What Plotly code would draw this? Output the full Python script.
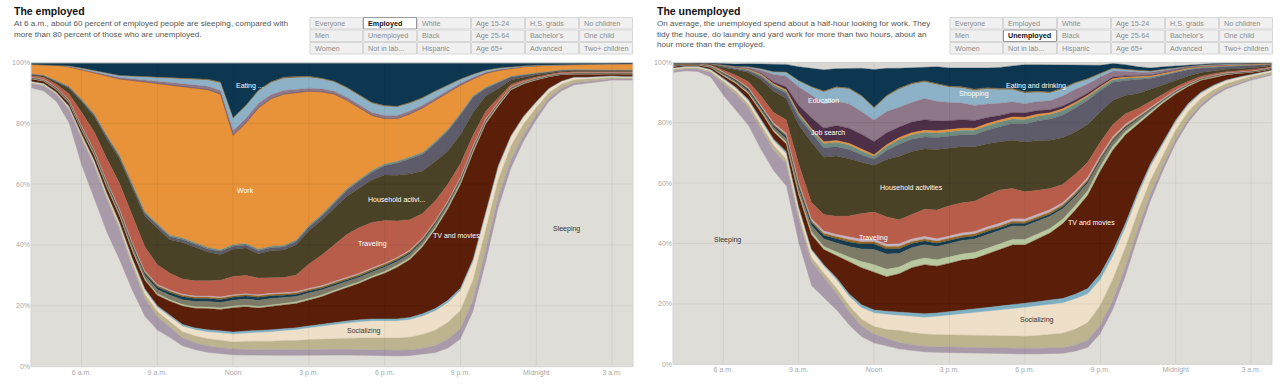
import plotly.graph_objects as go

# ---------------- time axis (hours after midnight, 4 a.m. -> 4 a.m.) ----------------
times = [4.0, 4.5, 5.0, 5.5, 6.0, 6.5, 7.0, 7.5, 8.0, 8.5,
         9.0, 9.5, 10.0, 10.5, 11.0, 11.5, 12.0, 12.5, 13.0, 13.5,
         14.0, 14.5, 15.0, 15.5, 16.0, 16.5, 17.0, 17.5, 18.0, 18.5,
         19.0, 19.5, 20.0, 20.5, 21.0, 21.5, 22.0, 22.5, 23.0, 23.5,
         24.0, 24.5, 25.0, 25.5, 26.0, 26.5, 27.0, 27.5, 28.0]

x_tick_vals = [6, 9, 12, 15, 18, 21, 24, 27]
x_tick_text = ["6 a.m.", "9 a.m.", "Noon", "3 p.m.", "6 p.m.", "9 p.m.", "Midnight", "3 a.m."]
y_tick_vals = [0, 20, 40, 60, 80, 100]
y_tick_text = ["0%", "20%", "40%", "60%", "80%", "100%"]

# ---------------- EMPLOYED (percent of people doing each activity) ----------------
emp_sleeping = [91.5, 90.5, 87, 80, 66, 55, 44, 35, 25, 16.5,
                12, 9.5, 6.7, 5.5, 4.6, 4.2, 3.8, 3.7, 3.6, 3.6,
                3.6, 3.6, 3.7, 3.7, 3.7, 3.7, 3.6, 3.5, 3.4, 3.4,
                3.5, 3.9, 4.5, 6, 9, 18, 34, 52, 65, 74,
                81, 87, 90.5, 92.5, 93, 93.5, 94, 94, 94]
emp_personal = [1.5, 1.8, 2.5, 4.5, 9, 11, 11, 10, 8, 6,
                4.5, 3.5, 2.8, 2.4, 2.2, 2, 2, 2, 2, 2,
                2, 2, 2, 2, 2, 2, 2, 2, 2, 2,
                2, 2.2, 2.5, 3, 3.5, 4, 4.5, 4, 3, 2.2,
                1.6, 1.2, 1, 0.8, 0.7, 0.6, 0.6, 0.5, 0.5]
emp_relaxing = [0.3, 0.3, 0.3, 0.5, 0.7, 0.9, 1, 1.2, 1.4, 1.5,
                1.6, 1.8, 2, 2.2, 2.4, 2.5, 2.3, 2.6, 2.7, 2.8,
                3, 3, 3.2, 3.4, 3.5, 3.6, 3.8, 4, 4, 4,
                4.2, 4.5, 5, 5.5, 6, 6.5, 6.5, 5.5, 4.5, 3.5,
                2.5, 1.8, 1.3, 1, 0.8, 0.6, 0.5, 0.4, 0.4]
emp_socializing = [0.3, 0.3, 0.3, 0.4, 0.5, 0.6, 0.7, 0.8, 1, 1.2,
                   1.4, 1.6, 1.8, 2, 2.2, 2.4, 2.6, 2.7, 2.8, 3,
                   3.2, 3.5, 3.8, 4.2, 4.6, 5, 5.3, 5.5, 5.6, 5.6,
                   5.7, 6, 6.3, 6.5, 6.5, 6, 5, 4, 3, 2.3,
                   1.7, 1.2, 0.9, 0.7, 0.5, 0.4, 0.3, 0.3, 0.3]
emp_sports = [0.1, 0.1, 0.1, 0.2, 0.2, 0.3, 0.3, 0.4, 0.4, 0.5,
              0.5, 0.6, 0.6, 0.6, 0.7, 0.7, 0.7, 0.7, 0.7, 0.7,
              0.7, 0.7, 0.7, 0.7, 0.7, 0.7, 0.7, 0.7, 0.7, 0.7,
              0.8, 0.8, 0.8, 0.8, 0.8, 0.8, 0.7, 0.6, 0.4, 0.3,
              0.2, 0.2, 0.1, 0.1, 0.1, 0.1, 0.1, 0.1, 0.1]
emp_tv = [0.8, 0.8, 0.8, 1, 1.3, 1.6, 1.9, 2.2, 2.4, 2.8,
          3.5, 4.5, 6, 6.5, 7, 7, 8, 8, 7.5, 7.8,
          7.8, 8, 8.5, 9, 10, 11, 12, 13.5, 15, 17,
          19, 22, 26, 30, 34, 35, 29, 19.5, 15, 10.6,
          7.2, 3.8, 2.1, 1, 1, 0.9, 0.8, 0.8, 0.8]
emp_religious = [0.1, 0.1, 0.1, 0.2, 0.2, 0.3, 0.3, 0.3, 0.4, 0.4,
                 0.5, 0.5, 0.5, 0.5, 0.5, 0.5, 0.5, 0.5, 0.5, 0.5,
                 0.5, 0.5, 0.5, 0.5, 0.5, 0.5, 0.5, 0.5, 0.6, 0.6,
                 0.6, 0.6, 0.6, 0.6, 0.6, 0.5, 0.4, 0.3, 0.2, 0.2,
                 0.1, 0.1, 0.1, 0.1, 0.1, 0.1, 0.1, 0.1, 0.1]
emp_other_leisure = [0.2, 0.2, 0.3, 0.4, 0.5, 0.6, 0.7, 0.8, 1, 1.2,
                     1.4, 1.5, 1.6, 1.7, 1.8, 1.8, 1.9, 2, 2, 2,
                     1.9, 1.8, 1.8, 1.7, 1.6, 1.5, 1.5, 1.4, 1.4, 1.3,
                     1.2, 1.1, 1, 0.9, 0.8, 0.7, 0.5, 0.4, 0.3, 0.2,
                     0.2, 0.1, 0.1, 0.1, 0.1, 0.1, 0.1, 0.1, 0.1]
emp_phone = [0.1, 0.1, 0.2, 0.2, 0.3, 0.4, 0.5, 0.5, 0.6, 0.7,
             0.8, 0.9, 1, 1, 1, 1, 1, 1, 1, 0.9,
             0.8, 0.7, 0.7, 0.6, 0.6, 0.6, 0.5, 0.5, 0.5, 0.5,
             0.5, 0.5, 0.5, 0.4, 0.4, 0.4, 0.3, 0.2, 0.2, 0.1,
             0.1, 0.1, 0.1, 0.1, 0.1, 0.1, 0.1, 0.1, 0.1]
emp_volunteering = [0.1, 0.1, 0.1, 0.2, 0.2, 0.3, 0.3, 0.3, 0.4, 0.4,
                    0.5, 0.5, 0.5, 0.5, 0.5, 0.5, 0.5, 0.5, 0.5, 0.5,
                    0.5, 0.5, 0.5, 0.5, 0.5, 0.5, 0.5, 0.5, 0.5, 0.5,
                    0.5, 0.4, 0.4, 0.4, 0.3, 0.3, 0.2, 0.2, 0.1, 0.1,
                    0.1, 0.1, 0.1, 0.1, 0.1, 0.1, 0.1, 0.1, 0.1]
emp_arts = [0.1, 0.1, 0.1, 0.1, 0.2, 0.2, 0.2, 0.3, 0.3, 0.3,
            0.3, 0.3, 0.3, 0.3, 0.3, 0.3, 0.3, 0.3, 0.3, 0.3,
            0.3, 0.3, 0.3, 0.3, 0.3, 0.3, 0.3, 0.3, 0.3, 0.3,
            0.3, 0.3, 0.3, 0.3, 0.3, 0.3, 0.3, 0.2, 0.2, 0.1,
            0.1, 0.1, 0.1, 0.1, 0.1, 0.1, 0.1, 0.1, 0.1]
emp_traveling = [0.5, 0.7, 1, 2, 4.5, 6, 7.5, 8.5, 9, 8,
                 6.5, 5.5, 5, 5, 5, 5.5, 6, 6, 5.5, 5,
                 5, 5.5, 8, 10, 12, 14, 15, 15, 14, 12,
                 10, 8, 6.5, 5.5, 4.5, 3.5, 2.5, 1.5, 0.8, 0.5,
                 0.4, 0.3, 0.3, 0.3, 0.3, 0.3, 0.3, 0.3, 0.3]
emp_household = [0.3, 0.4, 0.8, 1.8, 3.5, 5, 6.5, 8, 9, 10,
                 12, 11, 12, 11, 9.5, 8.5, 9, 9, 8, 9,
                 9, 10, 11, 11.5, 12, 12.5, 13, 14, 15, 15,
                 15, 14, 13, 11, 9.5, 7.5, 5, 3, 1.5, 1,
                 0.7, 0.5, 0.4, 0.3, 0.3, 0.3, 0.3, 0.3, 0.3]
emp_caring = [0.2, 0.2, 0.2, 0.4, 0.5, 0.6, 0.7, 0.8, 0.9, 1,
              1, 1, 1, 1, 1, 1, 1, 1, 1, 1,
              1, 1, 1.1, 1.3, 1.6, 2, 2.3, 2.5, 3, 4,
              5, 5.5, 6, 6.5, 6.5, 5, 2.5, 2, 1, 0.7,
              0.5, 0.4, 0.3, 0.3, 0.3, 0.2, 0.2, 0.2, 0.2]
emp_services = [0.1, 0.1, 0.2, 0.2, 0.3, 0.3, 0.4, 0.4, 0.5, 0.5,
                0.5, 0.5, 0.5, 0.5, 0.5, 0.5, 0.5, 0.5, 0.5, 0.5,
                0.5, 0.5, 0.6, 0.6, 0.6, 0.6, 0.6, 0.6, 0.6, 0.6,
                0.6, 0.6, 0.6, 0.6, 0.6, 0.5, 0.4, 0.3, 0.2, 0.2,
                0.1, 0.1, 0.1, 0.1, 0.1, 0.1, 0.1, 0.1, 0.1]
emp_work = [3.1, 3.4, 5, 6.4, 9.6, 13.4, 19.5, 25, 33.7, 42.5,
            46, 49.3, 49.7, 50.8, 51.8, 51.1, 35.9, 39.5, 46.4, 48.4,
            49.7, 48.4, 44.1, 40.3, 35.3, 29, 23.4, 18, 14.9, 14,
            14.1, 14.6, 13.5, 12, 9.2, 5.5, 4.5, 3.6, 2.6, 2.5,
            2.3, 2, 1.7, 1.7, 1.7, 1.9, 1.7, 2, 2]
emp_job_search = [0, 0, 0, 0, 0, 0, 0, 0, 0, 0,
                  0, 0, 0, 0, 0, 0, 0, 0, 0, 0,
                  0, 0, 0, 0, 0, 0, 0, 0, 0, 0,
                  0, 0, 0, 0, 0, 0, 0, 0, 0, 0,
                  0, 0, 0, 0, 0, 0, 0, 0, 0]
emp_education = [0, 0, 0, 0.1, 0.2, 0.3, 0.4, 0.5, 0.6, 0.7,
                 0.8, 0.9, 1, 1, 1.1, 1.2, 1.5, 1.5, 1.5, 1.3,
                 1.2, 1.1, 1, 1, 1, 1, 1, 1, 1, 1,
                 1, 0.9, 0.8, 0.7, 0.6, 0.5, 0.4, 0.3, 0.2, 0.1,
                 0.1, 0, 0, 0, 0, 0, 0, 0, 0]
emp_shopping = [0, 0, 0.1, 0.2, 0.3, 0.4, 0.5, 0.6, 0.7, 0.9,
                1.1, 1.3, 1.5, 1.8, 2, 2.5, 4, 4, 4, 4,
                4, 3.8, 3.5, 3.2, 3, 3, 3, 3, 3, 2.8,
                2.5, 2.2, 2, 1.6, 1.2, 0.9, 0.6, 0.4, 0.2, 0.1,
                0.1, 0.1, 0, 0, 0, 0, 0, 0, 0]
emp_housework = [0, 0, 0, 0, 0.1, 0.1, 0.1, 0.1, 0.2, 0.2,
                 0.2, 0.2, 0.3, 0.3, 0.3, 0.3, 0.3, 0.3, 0.3, 0.3,
                 0.4, 0.4, 0.4, 0.3, 0.3, 0.3, 0.3, 0.3, 0.3, 0.3,
                 0.3, 0.3, 0.3, 0.2, 0.2, 0.2, 0.1, 0.1, 0.1, 0.1,
                 0, 0, 0, 0, 0, 0, 0, 0, 0]
emp_eating = [0.4, 0.5, 0.6, 0.9, 1.5, 2.3, 3, 3.8, 4, 4.2,
              4.4, 4.6, 4.7, 4.9, 5.1, 6, 17.7, 13.7, 8.7, 5.9,
              4.4, 4.2, 4.1, 4.7, 5.7, 7.7, 10.2, 12.7, 13.7, 13.9,
              12.7, 11.1, 8.9, 7, 5, 3.4, 2.1, 1.4, 1, 0.7,
              0.6, 0.5, 0.5, 0.4, 0.4, 0.3, 0.3, 0.3, 0.3]
emp_other = [0.3, 0.3, 0.3, 0.3, 0.4, 0.4, 0.5, 0.5, 0.5, 0.5,
             0.5, 0.5, 0.5, 0.5, 0.5, 0.5, 0.5, 0.5, 0.5, 0.5,
             0.5, 0.5, 0.5, 0.5, 0.5, 0.5, 0.5, 0.5, 0.5, 0.5,
             0.5, 0.5, 0.5, 0.5, 0.5, 0.5, 0.5, 0.5, 0.5, 0.5,
             0.4, 0.4, 0.3, 0.3, 0.3, 0.3, 0.3, 0.2, 0.2]

# ---------------- UNEMPLOYED ----------------
unemp_sleeping = [96.5, 97, 96.8, 95, 89, 84, 79, 71, 64, 59,
                  40, 26, 22, 18, 13, 9, 7, 6, 5, 4.5,
                  4, 3.8, 3.7, 3.6, 3.5, 3.5, 3.5, 3.4, 3.3, 3.3,
                  3.3, 3.5, 4.2, 5.5, 10, 18, 29, 42, 54, 64,
                  73, 80, 85, 88.5, 91, 92.5, 94, 95, 96]
unemp_personal = [0.8, 0.8, 1, 1.5, 4, 5.5, 6, 7, 7, 7.5,
                  8, 8, 6.6, 5.5, 4.5, 3.7, 3, 2.5, 2.2, 2,
                  2, 2, 2, 2, 2, 2, 2, 2, 2, 2,
                  2, 2, 2.2, 2.5, 3, 3.2, 3.2, 3, 2.5, 2,
                  1.5, 1.2, 1, 0.8, 0.7, 0.6, 0.5, 0.5, 0.5]
unemp_relaxing = [0.4, 0.4, 0.4, 0.5, 0.8, 1, 1.2, 1.4, 1.5, 1.5,
                  1.5, 1.5, 1.6, 1.8, 2, 2.2, 2.5, 3, 4, 4,
                  4, 4, 4, 4, 4, 4, 4, 4, 4, 4.2,
                  4.5, 4.8, 5.2, 5.8, 6.5, 7, 6.5, 5.5, 4.5, 3.5,
                  3, 2.5, 2, 1.5, 1.2, 1, 0.8, 0.7, 0.6]
unemp_socializing = [0.3, 0.3, 0.3, 0.4, 0.6, 0.8, 1, 1.3, 1.5, 1.8,
                     2, 2.2, 2.3, 2.7, 3, 3.8, 4.5, 5, 5, 5.2,
                     5.5, 6, 6.5, 7, 7.5, 8, 8.5, 9, 9.5, 9.8,
                     10, 10, 10, 9.5, 8.5, 7.5, 6.5, 5.5, 4.5, 3.5,
                     2.8, 2.2, 1.7, 1.3, 1, 0.8, 0.6, 0.5, 0.5]
unemp_sports = [0.1, 0.1, 0.1, 0.2, 0.3, 0.4, 0.5, 0.5, 0.6, 0.7,
                0.5, 0.5, 0.5, 0.7, 0.9, 1, 1, 1.1, 1.1, 1.1,
                1.2, 1.2, 1.2, 1.2, 1.3, 1.3, 1.3, 1.3, 1.3, 1.4,
                1.5, 1.5, 1.6, 1.8, 2, 1.8, 1.5, 1.2, 1, 0.8,
                0.6, 0.5, 0.4, 0.3, 0.2, 0.2, 0.1, 0.1, 0.1]
unemp_tv = [0.5, 0.4, 0.4, 0.7, 0.8, 1.3, 1.8, 2.3, 2.4, 2.5,
            4, 4.8, 5, 7.3, 10.6, 12.3, 12.5, 11.4, 12.7, 15.2,
            16.3, 15.5, 16.1, 16.7, 16.7, 17.7, 18.7, 19.8, 19.4, 20.8,
            22.2, 24.7, 27.8, 30.9, 34, 33.5, 29.3, 22.3, 16.5, 12.7,
            8.6, 5.6, 3.9, 2.6, 1.7, 1.2, 0.6, 0.4, 0.5]
unemp_religious = [0.1, 0.1, 0.1, 0.1, 0.2, 0.2, 0.3, 0.4, 0.5, 0.6,
                   0.8, 1, 1, 1.2, 1.5, 2, 2.5, 2.5, 2.2, 2.2,
                   2.2, 2.1, 2, 2, 2, 2, 1.8, 1.8, 1.8, 1.6,
                   1.5, 1.5, 1.5, 1.5, 1.5, 1.2, 1, 0.8, 0.6, 0.5,
                   0.4, 0.3, 0.2, 0.2, 0.2, 0.1, 0.1, 0.1, 0.1]
unemp_other_leisure = [0.1, 0.1, 0.2, 0.2, 0.4, 0.5, 0.7, 0.8, 1, 1.2,
                       1.5, 2, 2.5, 3, 3.5, 4.2, 5, 5, 4.5, 4.4,
                       4.4, 4.4, 4.5, 4.5, 4.5, 4.5, 4.5, 4.5, 4.5, 4.2,
                       4, 3.5, 3, 2.5, 2, 1.6, 1.2, 0.9, 0.7, 0.5,
                       0.4, 0.3, 0.2, 0.2, 0.2, 0.1, 0.1, 0.1, 0.1]
unemp_phone = [0.1, 0.1, 0.1, 0.1, 0.3, 0.4, 0.5, 0.5, 0.6, 0.7,
               0.8, 1, 1.2, 1.4, 1.5, 1.6, 1.8, 1.7, 1.6, 1.4,
               1.2, 1.1, 1, 1, 1, 1, 0.9, 0.9, 0.8, 0.8,
               0.7, 0.7, 0.6, 0.6, 0.5, 0.5, 0.4, 0.3, 0.3, 0.2,
               0.2, 0.1, 0.1, 0.1, 0.1, 0.1, 0.1, 0.1, 0.1]
unemp_volunteering = [0.1, 0.1, 0.1, 0.1, 0.2, 0.2, 0.3, 0.3, 0.4, 0.5,
                      0.6, 0.6, 0.7, 0.7, 0.8, 0.8, 0.8, 0.8, 0.8, 0.7,
                      0.7, 0.7, 0.7, 0.7, 0.7, 0.7, 0.7, 0.7, 0.7, 0.7,
                      0.7, 0.6, 0.6, 0.6, 0.5, 0.5, 0.4, 0.3, 0.2, 0.2,
                      0.1, 0.1, 0.1, 0.1, 0.1, 0.1, 0.1, 0.1, 0.1]
unemp_arts = [0.1, 0.1, 0.1, 0.1, 0.2, 0.2, 0.3, 0.3, 0.4, 0.5,
              0.6, 0.6, 0.7, 0.7, 0.8, 0.8, 0.8, 0.8, 0.8, 0.8,
              0.8, 0.8, 0.8, 0.8, 0.8, 0.8, 0.8, 0.8, 0.8, 0.8,
              0.8, 0.7, 0.7, 0.7, 0.6, 0.6, 0.5, 0.4, 0.3, 0.2,
              0.2, 0.1, 0.1, 0.1, 0.1, 0.1, 0.1, 0.1, 0.1]
unemp_traveling = [0.1, 0, 0, 0.2, 0.7, 1.2, 2, 3, 3.5, 4.5,
                   6, 5.5, 5.5, 6, 7, 8.5, 9, 9, 8, 8,
                   9, 9.5, 10, 10, 10, 10.5, 11, 10, 9, 8,
                   7, 6, 5.5, 5, 4.5, 4, 3.5, 2.5, 2, 1.5,
                   1, 0.8, 0.6, 0.5, 0.4, 0.4, 0.4, 0.3, 0.2]
unemp_household = [0.1, 0.1, 0.1, 0.3, 0.8, 1.8, 3, 5.5, 7, 7,
                   13, 20, 19, 20, 19, 17, 15.5, 19, 21, 21,
                   20, 20, 19, 18.5, 18, 17, 16, 16, 16.5, 16.5,
                   16, 15.5, 14, 12.5, 10, 8, 6, 5, 4, 3,
                   2.3, 1.8, 1.3, 1, 0.8, 0.7, 0.6, 0.5, 0.3]
unemp_caring = [0.1, 0, 0, 0.1, 0.3, 0.4, 0.6, 1, 1.5, 1.8,
                2.5, 3, 3, 3, 3, 2.5, 2, 3, 4, 4,
                4, 4, 4, 4, 4, 4.5, 5, 5.5, 6, 6.5,
                7, 7.5, 8, 8, 7, 6, 5, 4.5, 3.5, 3,
                2.5, 2, 1.5, 1.2, 1, 0.9, 0.8, 0.6, 0.3]
unemp_services = [0, 0, 0, 0, 0.1, 0.2, 0.3, 0.5, 0.6, 0.7,
                  1, 1, 1.5, 1.5, 1.5, 1.2, 1, 1.3, 1.5, 1.5,
                  1.5, 1.5, 1.5, 1.5, 1.5, 1.5, 1.5, 1.5, 1.5, 1.5,
                  1.5, 1.5, 1.3, 1.2, 1, 0.8, 0.7, 0.6, 0.5, 0.4,
                  0.3, 0.3, 0.2, 0.2, 0.2, 0.2, 0.2, 0.1, 0.1]
unemp_work = [0.1, 0.1, 0.1, 0.1, 0.2, 0.2, 0.3, 0.3, 0.4, 0.4,
              0.5, 0.5, 0.6, 0.6, 0.6, 0.6, 0.5, 0.6, 0.7, 0.7,
              0.7, 0.7, 0.7, 0.7, 0.7, 0.7, 0.7, 0.7, 0.7, 0.7,
              0.6, 0.6, 0.5, 0.5, 0.4, 0.4, 0.4, 0.4, 0.4, 0.4,
              0.4, 0.3, 0.3, 0.3, 0.3, 0.3, 0.3, 0.3, 0.1]
unemp_job_search = [0, 0, 0, 0, 0, 0, 0.1, 0.3, 0.6, 1,
                    2.5, 3.5, 4.5, 5, 5, 5, 4.4, 4, 3.5, 3.5,
                    3.5, 3.3, 3, 2.8, 2.5, 2, 1.5, 1.5, 1.5, 1.2,
                    1, 0.9, 0.8, 0.7, 0.6, 0.5, 0.4, 0.3, 0.2, 0.2,
                    0.1, 0.1, 0, 0, 0, 0, 0, 0, 0]
unemp_education = [0, 0, 0, 0, 0.1, 0.2, 0.4, 1, 2.5, 3.5,
                   6, 7.5, 8, 8, 8, 7.5, 7, 7, 6.5, 6.5,
                   7, 6.5, 6, 5.5, 5, 4.5, 4, 3.5, 3, 3,
                   3, 3.3, 3.5, 3, 2.5, 2, 1.5, 1.2, 1, 0.8,
                   0.6, 0.4, 0.3, 0.2, 0.1, 0.1, 0.1, 0.1, 0]
unemp_shopping = [0, 0, 0, 0, 0.1, 0.1, 0.2, 0.4, 0.8, 1.2,
                  2, 2.5, 4, 4.5, 5, 5, 4, 5, 6, 6,
                  5.5, 5.5, 5, 5, 5, 5, 4.5, 4, 3.5, 3,
                  2.5, 2.3, 2, 1.5, 1, 0.8, 0.5, 0.4, 0.3, 0.2,
                  0.1, 0.1, 0.1, 0.1, 0.1, 0.1, 0, 0, 0]
unemp_housework = [0, 0, 0, 0, 0, 0, 0, 0.1, 0.1, 0.2,
                   0.2, 0.3, 0.3, 0.3, 0.3, 0.3, 0.3, 0.3, 0.4, 0.4,
                   0.4, 0.4, 0.4, 0.4, 0.4, 0.4, 0.4, 0.4, 0.4, 0.4,
                   0.4, 0.4, 0.3, 0.3, 0.3, 0.2, 0.2, 0.2, 0.1, 0.1,
                   0.1, 0.1, 0.1, 0.1, 0.1, 0.1, 0.1, 0.1, 0]
unemp_eating = [0.2, 0.1, 0.1, 0.2, 0.5, 0.8, 1, 1.5, 2.4, 2.5,
                4.5, 6, 7, 6, 6.5, 9, 12.5, 9, 6.5, 5,
                4.5, 5.5, 6, 6.3, 7, 6.5, 7, 7.5, 9, 8.8,
                9, 7.5, 5.7, 4.4, 2.6, 1.5, 1.5, 1.2, 1, 0.8,
                0.6, 0.4, 0.3, 0.3, 0.2, 0.2, 0.2, 0.2, 0.2]
unemp_other = [0.3, 0.2, 0.1, 0.2, 0.4, 0.6, 0.5, 0.6, 0.7, 0.7,
               1.5, 2, 2.5, 2.1, 2, 2, 2.4, 2, 2, 1.9,
               1.6, 1.5, 1.9, 1.8, 1.9, 1.9, 1.7, 1.2, 0.8, 0.8,
               0.8, 1, 1, 1, 1, 0.4, 0.8, 1.5, 1.9, 1.5,
               1.2, 0.8, 0.6, 0.4, 0.3, 0.2, 0.2, 0.1, 0.1]

# ---------------- layer order (bottom -> top) and colours ----------------
activities = ["Sleeping", "Personal care", "Relaxing and thinking", "Socializing",
              "Sports and exercise", "TV and movies", "Religious activities", "Other leisure",
              "Phone, mail and e-mail", "Volunteering", "Arts and entertainment", "Traveling",
              "Household activities", "Caring for others", "Professional services", "Work",
              "Job search", "Education", "Shopping", "Housework", "Eating and drinking", "Other"]
colors = ["#dfddd7", "#a99aa9", "#bdb48f", "#eedfc8",
          "#7eb0c4", "#5b1e08", "#b8c89f", "#7e7a68",
          "#173c4f", "#9a6a25", "#c6b4c6", "#b75d4a",
          "#4a4227", "#5e5b6b", "#6f8c80", "#e8933a",
          "#4e2f48", "#8e7788", "#8db2c7", "#8a6a32", "#0d3650", "#d9d7d1"]
emp_series = [emp_sleeping, emp_personal, emp_relaxing, emp_socializing,
              emp_sports, emp_tv, emp_religious, emp_other_leisure,
              emp_phone, emp_volunteering, emp_arts, emp_traveling,
              emp_household, emp_caring, emp_services, emp_work,
              emp_job_search, emp_education, emp_shopping, emp_housework, emp_eating, emp_other]
unemp_series = [unemp_sleeping, unemp_personal, unemp_relaxing, unemp_socializing,
                unemp_sports, unemp_tv, unemp_religious, unemp_other_leisure,
                unemp_phone, unemp_volunteering, unemp_arts, unemp_traveling,
                unemp_household, unemp_caring, unemp_services, unemp_work,
                unemp_job_search, unemp_education, unemp_shopping, unemp_housework, unemp_eating, unemp_other]

fig = go.Figure()
for group, series, xa, ya in [("emp", emp_series, "x", "y"), ("unemp", unemp_series, "x2", "y2")]:
    for i, (name, col, vals) in enumerate(zip(activities, colors, series)):
        kw = dict(groupnorm="percent") if i == 0 else {}
        fig.add_trace(go.Scatter(
            x=times, y=vals, name=name, stackgroup=group, mode="lines",
            line=dict(width=0.4, color=col), fillcolor=col,
            hoverinfo="skip", showlegend=False, xaxis=xa, yaxis=ya, **kw))

W, H = 1280, 387
def px(x):
    return x / W
def py(y):
    return 1 - y / H

FONT = "Liberation Sans, Arial, sans-serif"
axis_font = dict(family=FONT, size=7, color="#a8a8a8")
common_x = dict(range=[4, 27.83], tickvals=x_tick_vals, ticktext=x_tick_text, showgrid=False,
                zeroline=False, showline=False, ticks="", tickfont=axis_font, fixedrange=True,
                automargin=False)
common_y = dict(range=[0, 100], tickvals=y_tick_vals, ticktext=y_tick_text, showgrid=False,
                zeroline=False, showline=False, ticks="", tickfont=axis_font, fixedrange=True,
                automargin=False)

fig.update_layout(
    width=W, height=H, margin=dict(l=0, r=0, t=0, b=0, pad=0, autoexpand=False), autosize=False,
    paper_bgcolor="white", plot_bgcolor="#dfddd7", showlegend=False,
    font=dict(family=FONT),
    xaxis=dict(domain=[px(31), px(633)], anchor="y", **common_x),
    yaxis=dict(domain=[py(366.7), py(62.3)], anchor="x", **common_y),
    xaxis2=dict(domain=[px(673), px(1272)], anchor="y2", **common_x),
    yaxis2=dict(domain=[py(364.3), py(62.3)], anchor="x2", **common_y),
)

shapes = []
annotations = []
# faint grid over the areas
for xr, yr in [("x", "y"), ("x2", "y2")]:
    for xv in x_tick_vals:
        shapes.append(dict(type="line", xref=xr, yref=yr, x0=xv, x1=xv, y0=0, y1=100,
                           line=dict(color="rgba(0,0,0,0.06)", width=1), layer="above"))
    for yv in [20, 40, 60, 80]:
        shapes.append(dict(type="line", xref=xr, yref=yr, x0=4, x1=27.83, y0=yv, y1=yv,
                           line=dict(color="rgba(0,0,0,0.06)", width=1), layer="above"))
    shapes.append(dict(type="rect", xref=xr + " domain", yref=yr + " domain", x0=0, x1=1, y0=0, y1=1,
                       line=dict(color="#d4d4d4", width=1), layer="above"))

# titles and subtitles
title_font = dict(family=FONT, size=10.5, color="#111111")
sub_font = dict(family=FONT, size=8.1, color="#555555")
annotations.append(dict(text="<b>The employed</b>", x=px(12), y=py(10.5), xref="paper", yref="paper",
                        xanchor="left", yanchor="middle", showarrow=False, font=title_font))
annotations.append(dict(text="At 6 a.m., about 60 percent of employed people are sleeping, compared with<br>"
                             "more than 80 percent of those who are unemployed.",
                        x=px(12), y=py(17), xref="paper", yref="paper", xanchor="left", yanchor="top",
                        align="left", showarrow=False, font=sub_font))
annotations.append(dict(text="<b>The unemployed</b>", x=px(655), y=py(10.5), xref="paper", yref="paper",
                        xanchor="left", yanchor="middle", showarrow=False, font=title_font))
annotations.append(dict(text="On average, the unemployed spend about a half-hour looking for work. They<br>"
                             "tidy the house, do laundry and yard work for more than two hours, about an<br>"
                             "hour more than the employed.",
                        x=px(655), y=py(17), xref="paper", yref="paper", xanchor="left", yanchor="top",
                        align="left", showarrow=False, font=sub_font))

# selector tables
table_labels = [["Everyone", "Employed", "White", "Age 15-24", "H.S. grads", "No children"],
                ["Men", "Unemployed", "Black", "Age 25-64", "Bachelor's", "One child"],
                ["Women", "Not in lab...", "Hispanic", "Age 65+", "Advanced", "Two+ children"]]
col_edges = [309.5, 363, 417, 471, 525, 579, 633]
row_edges = [17, 29.5, 42, 54.5]
for offset, selected in [(0, (0, 1)), (640, (1, 1))]:
    for r in range(3):
        for c in range(6):
            x0, x1 = col_edges[c] + offset, col_edges[c + 1] + offset
            y0, y1 = row_edges[r], row_edges[r + 1]
            sel = (r, c) == selected
            shapes.append(dict(type="rect", xref="paper", yref="paper",
                               x0=px(x0 + 0.5), x1=px(x1 - 0.5), y0=py(y1 - 0.5), y1=py(y0 + 0.5),
                               fillcolor="#ffffff" if sel else "#f0f0f0",
                               line=dict(color="#9a9a9a" if sel else "#d6d6d6", width=1)))
            txt = table_labels[r][c]
            annotations.append(dict(text="<b>%s</b>" % txt if sel else txt,
                                    x=px(x0 + 3), y=py((y0 + y1) / 2), xref="paper", yref="paper",
                                    xanchor="left", yanchor="middle", showarrow=False,
                                    font=dict(family=FONT, size=7.2,
                                              color="#111111" if sel else "#8c8c8c")))

# activity labels
lab_white = dict(family=FONT, size=7, color="white")
lab_dark = dict(family=FONT, size=7, color="#333333")
emp_labels = [("Eating ...", 12.65, 92.2, lab_white), ("Work", 12.5, 58, lab_white),
              ("Household activi...", 18.45, 55, lab_white), ("Traveling", 17.5, 40.3, lab_white),
              ("TV and movies", 20.85, 43.2, lab_white), ("Sleeping", 25.2, 45.2, lab_dark),
              ("Socializing", 17.2, 11.7, lab_dark)]
unemp_labels = [("Education", 9.99, 87.5, lab_white), ("Job search", 10.15, 76.6, lab_white),
                ("Household activities", 13.5, 58.4, lab_white), ("Traveling", 11.98, 41.8, lab_white),
                ("Shopping", 15.98, 89.5, lab_white), ("Eating and drinking", 18.44, 92.2, lab_white),
                ("TV and movies", 20.63, 47.1, lab_white), ("Socializing", 18.48, 14.7, lab_dark),
                ("Sleeping", 6.18, 41.1, lab_dark)]
for labs, xr, yr in [(emp_labels, "x", "y"), (unemp_labels, "x2", "y2")]:
    for text, xv, yv, f in labs:
        annotations.append(dict(text=text, x=xv, y=yv, xref=xr, yref=yr, showarrow=False,
                                xanchor="center", yanchor="middle", font=f))

fig.update_layout(shapes=shapes, annotations=annotations)

page_fix = (
    "var s=document.createElement('style');"
    "s.innerHTML='html,body{margin:0!important;padding:0!important;overflow:hidden;}';"
    "document.head.appendChild(s);"
)
fig.write_html("out.html", config={"displayModeBar": False, "responsive": False}, post_script=page_fix)
